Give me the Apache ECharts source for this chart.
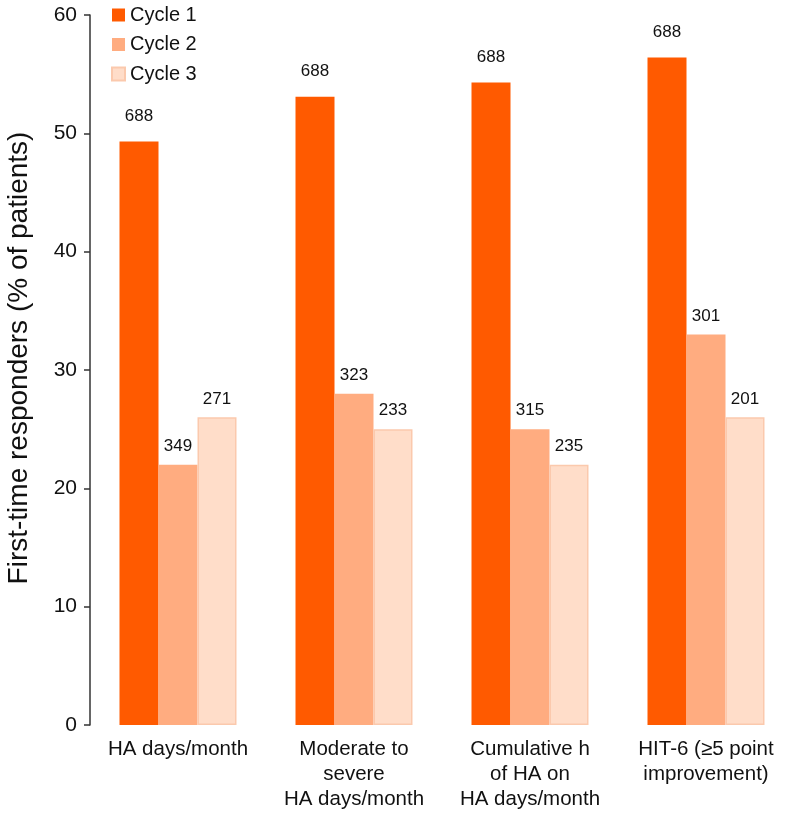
<!DOCTYPE html>
<html><head><meta charset="utf-8">
<script src="https://cdn.jsdelivr.net/npm/echarts@6/dist/echarts.min.js"></script>
<style>html,body{margin:0;padding:0;background:#fff;overflow:hidden}#c{width:794px;height:816px}</style>
</head><body><div id="c"></div>
<script>
const categories = ["HA days/month", "Moderate to\nsevere\nHA days/month", "Cumulative h\nof HA on\nHA days/month", "HIT-6 (≥5 point\nimprovement)"];
const seriesNames = ["Cycle 1", "Cycle 2", "Cycle 3"];
const cycle1 = [49.3, 53.1, 54.3, 56.4];
const cycle2 = [22, 28, 25, 33];
const cycle3 = [26, 25, 22, 26];
const n1 = [688, 688, 688, 688];
const n2 = [349, 323, 315, 301];
const n3 = [271, 233, 235, 201];
const yTicks = [0, 10, 20, 30, 40, 50, 60];
const yTitle = 'First-time responders (% of patients)';

const colors = ["#FF5A00", "#FFAC80", "#FFDDC9"];
const borders = ["#FF5A00", "#FFAC80", "#FBC9AD"];
const vals = [cycle1, cycle2, cycle3];
const ns = [n1, n2, n3];
const font = "Liberation Sans, Arial, sans-serif";

const chart = echarts.init(document.getElementById('c'), null, {renderer: 'canvas'});
chart.setOption({
  animation: false,
  textStyle: {fontFamily: font},
  legend: {
    orient: 'vertical', left: 111, top: 5, itemGap: 9.5, padding: 0,
    itemWidth: 13, itemHeight: 13, icon: 'rect',
    textStyle: {fontSize: 20, color: '#111', fontFamily: font},
    data: seriesNames
  },
  graphic: [{
    type: 'text', x: 19, y: 358, rotation: Math.PI / 2,
    style: {text: yTitle, font: '28px ' + font, fill: '#111', textAlign: 'center', textVerticalAlign: 'middle'}
  }],
  grid: {left: 90, right: 0, top: 15, bottom: 91, containLabel: false},
  xAxis: {
    type: 'category', data: categories,
    axisLine: {show: false}, axisTick: {show: false},
    axisLabel: {fontSize: 20.5, color: '#111', lineHeight: 25, margin: 12, fontFamily: font, interval: 0}
  },
  yAxis: {
    type: 'value', min: yTicks[0], max: yTicks[yTicks.length - 1], interval: 10,
    axisLine: {show: true, lineStyle: {color: '#333', width: 1.5}},
    axisTick: {show: true, inside: false, length: 6, lineStyle: {color: '#333', width: 1.5}},
    axisLabel: {fontSize: 21, color: '#111', margin: 13, fontFamily: font},
    splitLine: {show: false}
  },
  series: vals.map((v, i) => ({
    name: seriesNames[i], type: 'bar', barWidth: 39, barGap: '0%',
    itemStyle: {color: colors[i], borderColor: borders[i], borderWidth: i === 2 ? 1.5 : 0},
    label: {
      show: true, position: 'top', distance: i === 0 ? 17 : 10,
      fontSize: 17, color: '#111', fontFamily: font,
      formatter: p => ns[i][p.dataIndex]
    },
    data: v
  }))
});
</script></body></html>
